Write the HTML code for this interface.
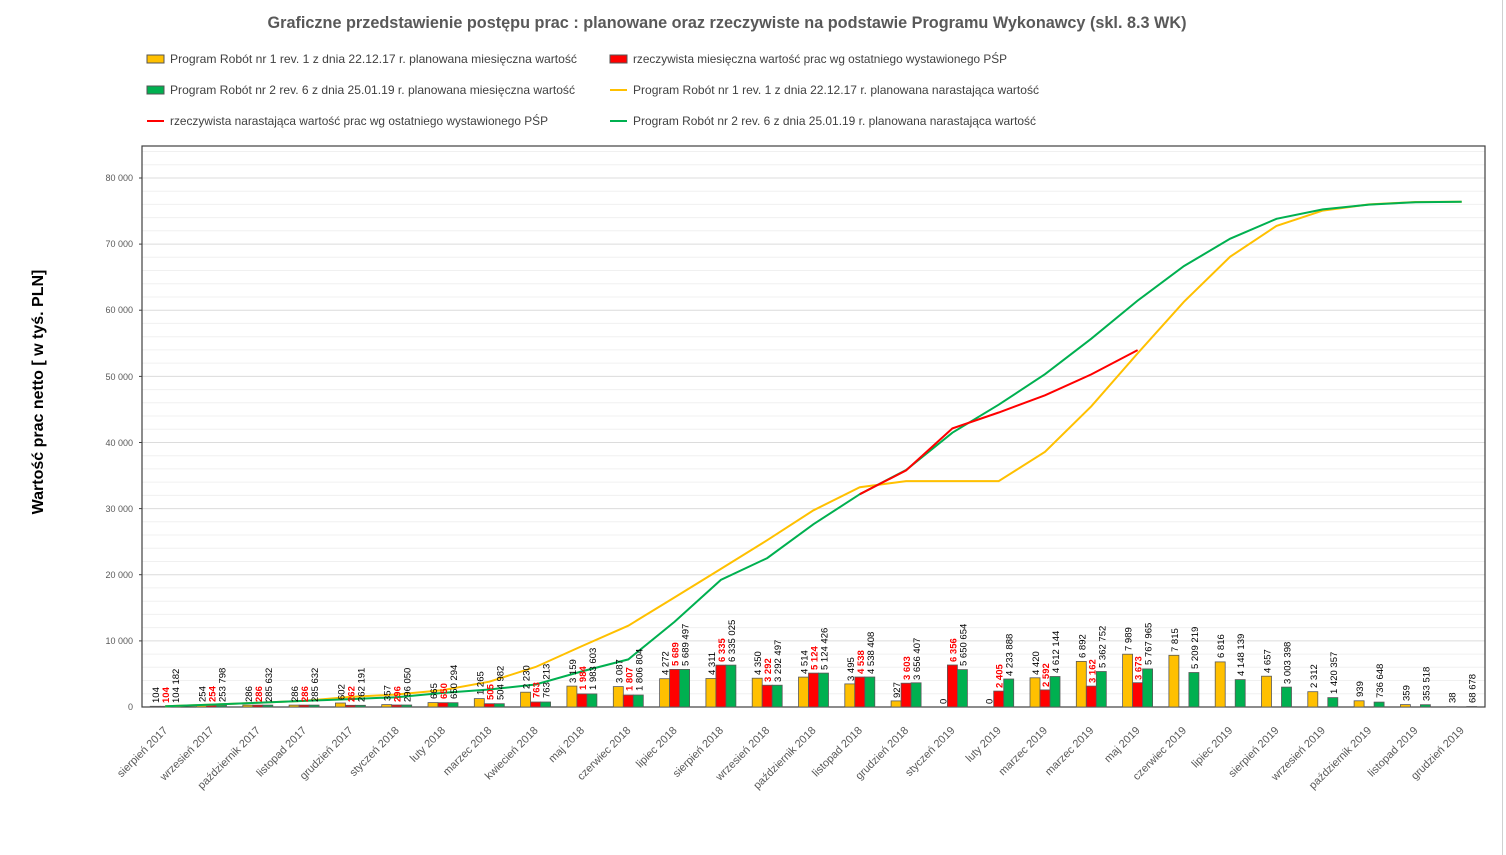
<!DOCTYPE html>
<html><head><meta charset="utf-8"><style>
html,body{margin:0;padding:0;background:#fff;}
svg{display:block;font-family:"Liberation Sans",sans-serif;}
.yt{font-size:9px;fill:#595959;text-anchor:end}
.xl{font-size:11px;fill:#595959;text-anchor:end}
.lb{font-size:9.5px;fill:#000}
.lr{font-size:9.5px;fill:#f00;font-weight:bold}
.lg{font-size:12px;fill:#404040}
</style></head><body>
<svg width="1506" height="855" viewBox="0 0 1506 855" xmlns="http://www.w3.org/2000/svg">
<rect width="1506" height="855" fill="#fff"/>
<line x1="1502.5" y1="0" x2="1502.5" y2="855" stroke="#d0d0d0"/>
<text x="727" y="28" text-anchor="middle" font-size="17" font-weight="bold" fill="#595959" textLength="919" lengthAdjust="spacingAndGlyphs">Graficzne przedstawienie postępu prac : planowane oraz rzeczywiste na podstawie Programu Wykonawcy (skl. 8.3 WK)</text>

<!-- legend -->
<rect x="147" y="55" width="17" height="8" fill="#ffc000" stroke="#555" stroke-width="1"/>
<text class="lg" x="170" y="63" textLength="407" lengthAdjust="spacingAndGlyphs">Program Robót  nr 1  rev. 1 z dnia 22.12.17 r. planowana miesięczna wartość</text>
<rect x="610" y="55" width="17" height="8" fill="#ff0000" stroke="#555" stroke-width="1"/>
<text class="lg" x="633" y="63" textLength="374" lengthAdjust="spacingAndGlyphs">rzeczywista miesięczna wartość prac wg ostatniego wystawionego PŚP</text>
<rect x="147" y="86" width="17" height="8" fill="#00b050" stroke="#555" stroke-width="1"/>
<text class="lg" x="170" y="94" textLength="405" lengthAdjust="spacingAndGlyphs">Program Robót  nr 2 rev. 6 z dnia 25.01.19 r. planowana miesięczna wartość</text>
<line x1="610" y1="90" x2="627" y2="90" stroke="#ffc000" stroke-width="2"/>
<text class="lg" x="633" y="94" textLength="406" lengthAdjust="spacingAndGlyphs">Program Robót nr 1  rev. 1 z dnia 22.12.17 r. planowana narastająca wartość</text>
<line x1="147" y1="121" x2="164" y2="121" stroke="#ff0000" stroke-width="2"/>
<text class="lg" x="170" y="125" textLength="378" lengthAdjust="spacingAndGlyphs">rzeczywista narastająca wartość prac wg ostatniego wystawionego PŚP</text>
<line x1="610" y1="121" x2="627" y2="121" stroke="#00b050" stroke-width="2"/>
<text class="lg" x="633" y="125" textLength="403" lengthAdjust="spacingAndGlyphs">Program Robót nr 2 rev. 6 z dnia 25.01.19 r. planowana narastająca wartość</text>

<text x="0" y="0" transform="translate(43,392) rotate(-90)" text-anchor="middle" font-size="16" font-weight="bold" fill="#000">Wartość prac netto [ w tyś. PLN]</text>

<!-- grid -->
<g stroke="#f0f0f0" stroke-width="1">
<line x1="142" x2="1485" y1="693.8" y2="693.8"/><line x1="142" x2="1485" y1="680.5" y2="680.5"/><line x1="142" x2="1485" y1="667.3" y2="667.3"/><line x1="142" x2="1485" y1="654.1" y2="654.1"/>
<line x1="142" x2="1485" y1="627.6" y2="627.6"/><line x1="142" x2="1485" y1="614.4" y2="614.4"/><line x1="142" x2="1485" y1="601.2" y2="601.2"/><line x1="142" x2="1485" y1="587.9" y2="587.9"/>
<line x1="142" x2="1485" y1="561.5" y2="561.5"/><line x1="142" x2="1485" y1="548.3" y2="548.3"/><line x1="142" x2="1485" y1="535.0" y2="535.0"/><line x1="142" x2="1485" y1="521.8" y2="521.8"/>
<line x1="142" x2="1485" y1="495.4" y2="495.4"/><line x1="142" x2="1485" y1="482.1" y2="482.1"/><line x1="142" x2="1485" y1="468.9" y2="468.9"/><line x1="142" x2="1485" y1="455.7" y2="455.7"/>
<line x1="142" x2="1485" y1="429.2" y2="429.2"/><line x1="142" x2="1485" y1="416.0" y2="416.0"/><line x1="142" x2="1485" y1="402.8" y2="402.8"/><line x1="142" x2="1485" y1="389.6" y2="389.6"/>
<line x1="142" x2="1485" y1="363.1" y2="363.1"/><line x1="142" x2="1485" y1="349.9" y2="349.9"/><line x1="142" x2="1485" y1="336.7" y2="336.7"/><line x1="142" x2="1485" y1="323.4" y2="323.4"/>
<line x1="142" x2="1485" y1="297.0" y2="297.0"/><line x1="142" x2="1485" y1="283.8" y2="283.8"/><line x1="142" x2="1485" y1="270.5" y2="270.5"/><line x1="142" x2="1485" y1="257.3" y2="257.3"/>
<line x1="142" x2="1485" y1="230.8" y2="230.8"/><line x1="142" x2="1485" y1="217.6" y2="217.6"/><line x1="142" x2="1485" y1="204.4" y2="204.4"/><line x1="142" x2="1485" y1="191.2" y2="191.2"/>
<line x1="142" x2="1485" y1="164.7" y2="164.7"/><line x1="142" x2="1485" y1="151.5" y2="151.5"/>
</g>
<g stroke="#dcdcdc" stroke-width="1">
<line x1="142" x2="1485" y1="640.9" y2="640.9"/><line x1="142" x2="1485" y1="574.7" y2="574.7"/><line x1="142" x2="1485" y1="508.6" y2="508.6"/><line x1="142" x2="1485" y1="442.5" y2="442.5"/><line x1="142" x2="1485" y1="376.4" y2="376.4"/><line x1="142" x2="1485" y1="310.2" y2="310.2"/><line x1="142" x2="1485" y1="244.1" y2="244.1"/><line x1="142" x2="1485" y1="178.0" y2="178.0"/>
</g>
<g class="yt">
<text x="133" y="710">0</text><text x="133" y="644">10 000</text><text x="133" y="578">20 000</text><text x="133" y="512">30 000</text><text x="133" y="446">40 000</text><text x="133" y="380">50 000</text><text x="133" y="313">60 000</text><text x="133" y="247">70 000</text><text x="133" y="181">80 000</text>
</g>
<rect x="142" y="146" width="1343" height="561" fill="none" stroke="#404040" stroke-width="1.2"/>
<g stroke="#404040">
<line x1="139" x2="142" y1="640.9" y2="640.9"/><line x1="139" x2="142" y1="574.7" y2="574.7"/><line x1="139" x2="142" y1="508.6" y2="508.6"/><line x1="139" x2="142" y1="442.5" y2="442.5"/><line x1="139" x2="142" y1="376.4" y2="376.4"/><line x1="139" x2="142" y1="310.2" y2="310.2"/><line x1="139" x2="142" y1="244.1" y2="244.1"/><line x1="139" x2="142" y1="178.0" y2="178.0"/>
</g>

<!-- bars -->
<g stroke="#595959" stroke-width="0.8">
<g transform="translate(165.2,707)"><rect x="-15" y="-0.7" width="10" height="0.7" fill="#ffc000"/><rect x="-5" y="-0.7" width="10" height="0.7" fill="#f00"/><rect x="5" y="-0.7" width="10" height="0.7" fill="#00b050"/></g>
<g transform="translate(211.5,707)"><rect x="-15" y="-1.7" width="10" height="1.7" fill="#ffc000"/><rect x="-5" y="-1.7" width="10" height="1.7" fill="#f00"/><rect x="5" y="-1.7" width="10" height="1.7" fill="#00b050"/></g>
<g transform="translate(257.8,707)"><rect x="-15" y="-1.9" width="10" height="1.9" fill="#ffc000"/><rect x="-5" y="-1.9" width="10" height="1.9" fill="#f00"/><rect x="5" y="-1.9" width="10" height="1.9" fill="#00b050"/></g>
<g transform="translate(304.1,707)"><rect x="-15" y="-1.9" width="10" height="1.9" fill="#ffc000"/><rect x="-5" y="-1.9" width="10" height="1.9" fill="#f00"/><rect x="5" y="-1.9" width="10" height="1.9" fill="#00b050"/></g>
<g transform="translate(350.4,707)"><rect x="-15" y="-4" width="10" height="4" fill="#ffc000"/><rect x="-5" y="-1.7" width="10" height="1.7" fill="#f00"/><rect x="5" y="-1.7" width="10" height="1.7" fill="#00b050"/></g>
<g transform="translate(396.7,707)"><rect x="-15" y="-2.4" width="10" height="2.4" fill="#ffc000"/><rect x="-5" y="-2" width="10" height="2" fill="#f00"/><rect x="5" y="-2" width="10" height="2" fill="#00b050"/></g>
<g transform="translate(443.0,707)"><rect x="-15" y="-4.4" width="10" height="4.4" fill="#ffc000"/><rect x="-5" y="-4.3" width="10" height="4.3" fill="#f00"/><rect x="5" y="-4.3" width="10" height="4.3" fill="#00b050"/></g>
<g transform="translate(489.3,707)"><rect x="-15" y="-8.4" width="10" height="8.4" fill="#ffc000"/><rect x="-5" y="-3.3" width="10" height="3.3" fill="#f00"/><rect x="5" y="-3.3" width="10" height="3.3" fill="#00b050"/></g>
<g transform="translate(535.6,707)"><rect x="-15" y="-14.8" width="10" height="14.8" fill="#ffc000"/><rect x="-5" y="-5" width="10" height="5" fill="#f00"/><rect x="5" y="-5" width="10" height="5" fill="#00b050"/></g>
<g transform="translate(581.9,707)"><rect x="-15" y="-20.9" width="10" height="20.9" fill="#ffc000"/><rect x="-5" y="-13.1" width="10" height="13.1" fill="#f00"/><rect x="5" y="-13.1" width="10" height="13.1" fill="#00b050"/></g>
<g transform="translate(628.3,707)"><rect x="-15" y="-20.4" width="10" height="20.4" fill="#ffc000"/><rect x="-5" y="-12" width="10" height="12" fill="#f00"/><rect x="5" y="-12" width="10" height="12" fill="#00b050"/></g>
<g transform="translate(674.6,707)"><rect x="-15" y="-28.3" width="10" height="28.3" fill="#ffc000"/><rect x="-5" y="-37.6" width="10" height="37.6" fill="#f00"/><rect x="5" y="-37.6" width="10" height="37.6" fill="#00b050"/></g>
<g transform="translate(720.9,707)"><rect x="-15" y="-28.5" width="10" height="28.5" fill="#ffc000"/><rect x="-5" y="-41.9" width="10" height="41.9" fill="#f00"/><rect x="5" y="-41.9" width="10" height="41.9" fill="#00b050"/></g>
<g transform="translate(767.2,707)"><rect x="-15" y="-28.8" width="10" height="28.8" fill="#ffc000"/><rect x="-5" y="-21.8" width="10" height="21.8" fill="#f00"/><rect x="5" y="-21.8" width="10" height="21.8" fill="#00b050"/></g>
<g transform="translate(813.5,707)"><rect x="-15" y="-29.9" width="10" height="29.9" fill="#ffc000"/><rect x="-5" y="-33.9" width="10" height="33.9" fill="#f00"/><rect x="5" y="-33.9" width="10" height="33.9" fill="#00b050"/></g>
<g transform="translate(859.8,707)"><rect x="-15" y="-23.1" width="10" height="23.1" fill="#ffc000"/><rect x="-5" y="-30" width="10" height="30" fill="#f00"/><rect x="5" y="-30" width="10" height="30" fill="#00b050"/></g>
<g transform="translate(906.1,707)"><rect x="-15" y="-6.1" width="10" height="6.1" fill="#ffc000"/><rect x="-5" y="-23.8" width="10" height="23.8" fill="#f00"/><rect x="5" y="-24.2" width="10" height="24.2" fill="#00b050"/></g>
<g transform="translate(952.4,707)"><rect x="-5" y="-42" width="10" height="42" fill="#f00"/><rect x="5" y="-37.4" width="10" height="37.4" fill="#00b050"/></g>
<g transform="translate(998.7,707)"><rect x="-5" y="-15.9" width="10" height="15.9" fill="#f00"/><rect x="5" y="-28" width="10" height="28" fill="#00b050"/></g>
<g transform="translate(1045.0,707)"><rect x="-15" y="-29.2" width="10" height="29.2" fill="#ffc000"/><rect x="-5" y="-17.1" width="10" height="17.1" fill="#f00"/><rect x="5" y="-30.5" width="10" height="30.5" fill="#00b050"/></g>
<g transform="translate(1091.3,707)"><rect x="-15" y="-45.6" width="10" height="45.6" fill="#ffc000"/><rect x="-5" y="-20.9" width="10" height="20.9" fill="#f00"/><rect x="5" y="-35.5" width="10" height="35.5" fill="#00b050"/></g>
<g transform="translate(1137.6,707)"><rect x="-15" y="-52.8" width="10" height="52.8" fill="#ffc000"/><rect x="-5" y="-24.3" width="10" height="24.3" fill="#f00"/><rect x="5" y="-38.1" width="10" height="38.1" fill="#00b050"/></g>
<g transform="translate(1183.9,707)"><rect x="-15" y="-51.7" width="10" height="51.7" fill="#ffc000"/><rect x="5" y="-34.5" width="10" height="34.5" fill="#00b050"/></g>
<g transform="translate(1230.2,707)"><rect x="-15" y="-45.1" width="10" height="45.1" fill="#ffc000"/><rect x="5" y="-27.4" width="10" height="27.4" fill="#00b050"/></g>
<g transform="translate(1276.5,707)"><rect x="-15" y="-30.8" width="10" height="30.8" fill="#ffc000"/><rect x="5" y="-19.9" width="10" height="19.9" fill="#00b050"/></g>
<g transform="translate(1322.8,707)"><rect x="-15" y="-15.3" width="10" height="15.3" fill="#ffc000"/><rect x="5" y="-9.4" width="10" height="9.4" fill="#00b050"/></g>
<g transform="translate(1369.1,707)"><rect x="-15" y="-6.2" width="10" height="6.2" fill="#ffc000"/><rect x="5" y="-4.9" width="10" height="4.9" fill="#00b050"/></g>
<g transform="translate(1415.4,707)"><rect x="-15" y="-2.4" width="10" height="2.4" fill="#ffc000"/><rect x="5" y="-2.3" width="10" height="2.3" fill="#00b050"/></g>
<g transform="translate(1461.7,707)"><rect x="-15" y="-0.3" width="10" height="0.3" fill="#ffc000"/><rect x="5" y="-0.5" width="10" height="0.5" fill="#00b050"/></g>
</g>

<!-- lines -->
<polyline fill="none" stroke="#ffc000" stroke-width="2" points="165.2,706.3 211.5,704.6 257.8,702.7 304.1,700.9 350.4,696.9 396.7,694.5 443.0,690.1 489.3,681.7 535.6,667.0 581.9,646.1 628.3,625.7 674.6,597.4 720.9,568.9 767.2,540.2 813.5,510.3 859.8,487.2 906.1,481.1 952.4,481.1 998.7,481.1 1045.0,451.8 1091.3,406.3 1137.6,353.4 1183.9,301.8 1230.2,256.7 1276.5,225.9 1322.8,210.6 1369.1,204.4 1415.4,202.0 1461.7,201.8"/>
<polyline fill="none" stroke="#00b050" stroke-width="2" points="165.2,706.3 211.5,704.6 257.8,702.7 304.1,700.9 350.4,699.1 396.7,697.2 443.0,692.9 489.3,689.5 535.6,684.5 581.9,671.4 628.3,659.4 674.6,621.8 720.9,579.9 767.2,558.1 813.5,524.2 859.8,494.2 906.1,470.0 952.4,432.7 998.7,404.7 1045.0,374.2 1091.3,338.7 1137.6,300.6 1183.9,266.1 1230.2,238.7 1276.5,218.8 1322.8,209.4 1369.1,204.6 1415.4,202.2 1461.7,201.8"/>
<polyline fill="none" stroke="#ff0000" stroke-width="2" points="859.8,494.2 906.1,470.4 952.4,428.4 998.7,412.5 1045.0,395.3 1091.3,374.4 1137.6,350.1"/>

<!-- data labels -->
<g>
<text class="lb" transform="translate(159.2,703) rotate(-90)">104</text><text class="lr" transform="translate(169.2,703) rotate(-90)">104</text><text class="lb" transform="translate(179.2,703) rotate(-90)">104 182</text>
<text class="lb" transform="translate(205.5,702) rotate(-90)">254</text><text class="lr" transform="translate(215.5,702) rotate(-90)">254</text><text class="lb" transform="translate(225.5,702) rotate(-90)">253 798</text>
<text class="lb" transform="translate(251.8,702) rotate(-90)">286</text><text class="lr" transform="translate(261.8,702) rotate(-90)">286</text><text class="lb" transform="translate(271.8,702) rotate(-90)">285 632</text>
<text class="lb" transform="translate(298.1,702) rotate(-90)">286</text><text class="lr" transform="translate(308.1,702) rotate(-90)">286</text><text class="lb" transform="translate(318.1,702) rotate(-90)">285 632</text>
<text class="lb" transform="translate(344.4,700) rotate(-90)">602</text><text class="lr" transform="translate(354.4,702) rotate(-90)">262</text><text class="lb" transform="translate(364.4,702) rotate(-90)">262 191</text>
<text class="lb" transform="translate(390.7,701) rotate(-90)">357</text><text class="lr" transform="translate(400.7,702) rotate(-90)">296</text><text class="lb" transform="translate(410.7,702) rotate(-90)">296 050</text>
<text class="lb" transform="translate(437.0,699) rotate(-90)">665</text><text class="lr" transform="translate(447.0,699) rotate(-90)">650</text><text class="lb" transform="translate(457.0,699) rotate(-90)">650 294</text>
<text class="lb" transform="translate(483.3,695) rotate(-90)">1 265</text><text class="lr" transform="translate(493.3,700) rotate(-90)">505</text><text class="lb" transform="translate(503.3,700) rotate(-90)">504 982</text>
<text class="lb" transform="translate(529.6,689) rotate(-90)">2 230</text><text class="lr" transform="translate(539.6,698) rotate(-90)">763</text><text class="lb" transform="translate(549.6,698) rotate(-90)">763 213</text>
<text class="lb" transform="translate(575.9,683) rotate(-90)">3 159</text><text class="lr" transform="translate(585.9,690) rotate(-90)">1 984</text><text class="lb" transform="translate(595.9,690) rotate(-90)">1 983 603</text>
<text class="lb" transform="translate(622.3,683) rotate(-90)">3 087</text><text class="lr" transform="translate(632.3,691) rotate(-90)">1 807</text><text class="lb" transform="translate(642.3,691) rotate(-90)">1 806 804</text>
<text class="lb" transform="translate(668.6,675) rotate(-90)">4 272</text><text class="lr" transform="translate(678.6,666) rotate(-90)">5 689</text><text class="lb" transform="translate(688.6,666) rotate(-90)">5 689 497</text>
<text class="lb" transform="translate(714.9,675) rotate(-90)">4 311</text><text class="lr" transform="translate(724.9,662) rotate(-90)">6 335</text><text class="lb" transform="translate(734.9,662) rotate(-90)">6 335 025</text>
<text class="lb" transform="translate(761.2,675) rotate(-90)">4 350</text><text class="lr" transform="translate(771.2,682) rotate(-90)">3 292</text><text class="lb" transform="translate(781.2,682) rotate(-90)">3 292 497</text>
<text class="lb" transform="translate(807.5,674) rotate(-90)">4 514</text><text class="lr" transform="translate(817.5,670) rotate(-90)">5 124</text><text class="lb" transform="translate(827.5,670) rotate(-90)">5 124 426</text>
<text class="lb" transform="translate(853.8,681) rotate(-90)">3 495</text><text class="lr" transform="translate(863.8,674) rotate(-90)">4 538</text><text class="lb" transform="translate(873.8,674) rotate(-90)">4 538 408</text>
<text class="lb" transform="translate(900.1,698) rotate(-90)">927</text><text class="lr" transform="translate(910.1,680) rotate(-90)">3 603</text><text class="lb" transform="translate(920.1,680) rotate(-90)">3 656 407</text>
<text class="lb" transform="translate(946.4,704) rotate(-90)">0</text><text class="lr" transform="translate(956.4,662) rotate(-90)">6 356</text><text class="lb" transform="translate(966.4,666) rotate(-90)">5 650 654</text>
<text class="lb" transform="translate(992.7,704) rotate(-90)">0</text><text class="lr" transform="translate(1002.7,688) rotate(-90)">2 405</text><text class="lb" transform="translate(1012.7,676) rotate(-90)">4 233 888</text>
<text class="lb" transform="translate(1039.0,675) rotate(-90)">4 420</text><text class="lr" transform="translate(1049.0,687) rotate(-90)">2 592</text><text class="lb" transform="translate(1059.0,673) rotate(-90)">4 612 144</text>
<text class="lb" transform="translate(1085.3,658) rotate(-90)">6 892</text><text class="lr" transform="translate(1095.3,683) rotate(-90)">3 162</text><text class="lb" transform="translate(1105.3,668) rotate(-90)">5 362 752</text>
<text class="lb" transform="translate(1131.6,651) rotate(-90)">7 989</text><text class="lr" transform="translate(1141.6,680) rotate(-90)">3 673</text><text class="lb" transform="translate(1151.6,665) rotate(-90)">5 767 965</text>
<text class="lb" transform="translate(1177.9,652) rotate(-90)">7 815</text><text class="lb" transform="translate(1197.9,669) rotate(-90)">5 209 219</text>
<text class="lb" transform="translate(1224.2,658) rotate(-90)">6 816</text><text class="lb" transform="translate(1244.2,676) rotate(-90)">4 148 139</text>
<text class="lb" transform="translate(1270.5,673) rotate(-90)">4 657</text><text class="lb" transform="translate(1290.5,684) rotate(-90)">3 003 398</text>
<text class="lb" transform="translate(1316.8,688) rotate(-90)">2 312</text><text class="lb" transform="translate(1336.8,694) rotate(-90)">1 420 357</text>
<text class="lb" transform="translate(1363.1,697) rotate(-90)">939</text><text class="lb" transform="translate(1383.1,698) rotate(-90)">736 648</text>
<text class="lb" transform="translate(1409.4,701) rotate(-90)">359</text><text class="lb" transform="translate(1429.4,701) rotate(-90)">353 518</text>
<text class="lb" transform="translate(1455.7,703) rotate(-90)">38</text><text class="lb" transform="translate(1475.7,703) rotate(-90)">68 678</text>
</g>

<!-- x labels -->
<g class="xl">
<text transform="translate(168.2,731) rotate(-45)">sierpień 2017</text>
<text transform="translate(214.5,731) rotate(-45)">wrzesień 2017</text>
<text transform="translate(260.8,731) rotate(-45)">październik 2017</text>
<text transform="translate(307.1,731) rotate(-45)">listopad 2017</text>
<text transform="translate(353.4,731) rotate(-45)">grudzień  2017</text>
<text transform="translate(399.7,731) rotate(-45)">styczeń 2018</text>
<text transform="translate(446.0,731) rotate(-45)">luty 2018</text>
<text transform="translate(492.3,731) rotate(-45)">marzec 2018</text>
<text transform="translate(538.6,731) rotate(-45)">kwiecień 2018</text>
<text transform="translate(584.9,731) rotate(-45)">maj 2018</text>
<text transform="translate(631.3,731) rotate(-45)">czerwiec 2018</text>
<text transform="translate(677.6,731) rotate(-45)">lipiec 2018</text>
<text transform="translate(723.9,731) rotate(-45)">sierpień 2018</text>
<text transform="translate(770.2,731) rotate(-45)">wrzesień 2018</text>
<text transform="translate(816.5,731) rotate(-45)">październik 2018</text>
<text transform="translate(862.8,731) rotate(-45)">listopad 2018</text>
<text transform="translate(909.1,731) rotate(-45)">grudzień 2018</text>
<text transform="translate(955.4,731) rotate(-45)">styczeń 2019</text>
<text transform="translate(1001.7,731) rotate(-45)">luty 2019</text>
<text transform="translate(1048.0,731) rotate(-45)">marzec 2019</text>
<text transform="translate(1094.3,731) rotate(-45)">marzec 2019</text>
<text transform="translate(1140.6,731) rotate(-45)">maj 2019</text>
<text transform="translate(1186.9,731) rotate(-45)">czerwiec 2019</text>
<text transform="translate(1233.2,731) rotate(-45)">lipiec 2019</text>
<text transform="translate(1279.5,731) rotate(-45)">sierpień 2019</text>
<text transform="translate(1325.8,731) rotate(-45)">wrzesień 2019</text>
<text transform="translate(1372.1,731) rotate(-45)">październik 2019</text>
<text transform="translate(1418.4,731) rotate(-45)">listopad 2019</text>
<text transform="translate(1464.7,731) rotate(-45)">grudzień 2019</text>
</g>
</svg>
</body></html>
